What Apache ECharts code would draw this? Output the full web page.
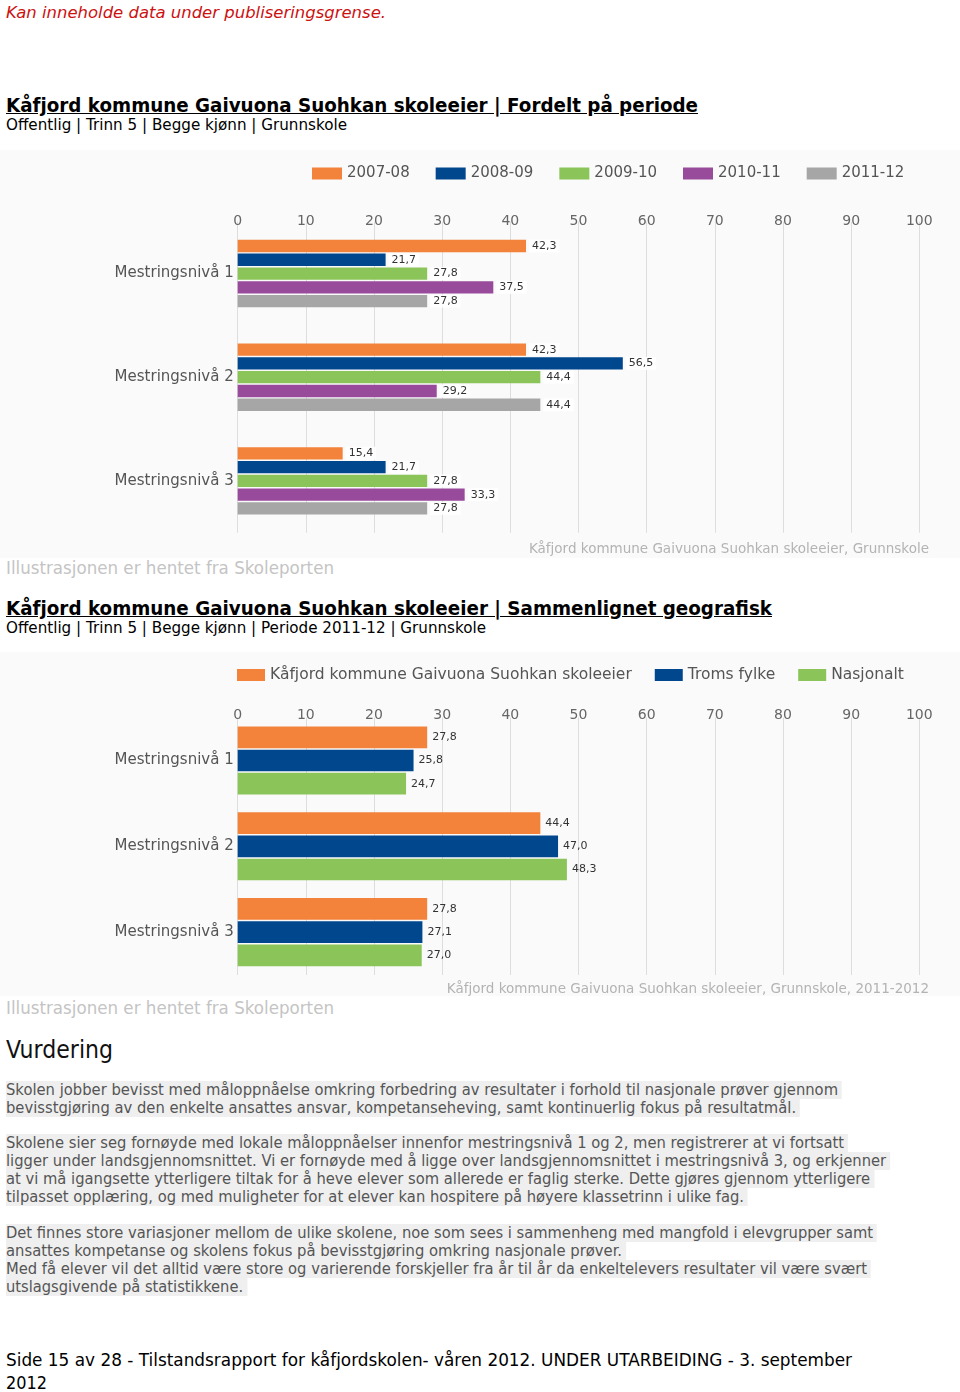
<!DOCTYPE html>
<html><head><meta charset="utf-8">
<script src="https://cdn.jsdelivr.net/npm/echarts@6/dist/echarts.min.js"></script>
<style>
html,body{margin:0;padding:0;background:#fff;}
body{width:960px;height:1392px;position:relative;overflow:hidden;font-family:"DejaVu Sans",Verdana,sans-serif;}
.t{position:absolute;left:6px;white-space:nowrap;transform-origin:0 50%;display:inline-block;}
.p{color:#555;font-size:15px;line-height:18px;height:18px;background:#efefef;padding-right:4px;}
.h{color:#000;font-weight:bold;font-size:19px;line-height:22px;text-decoration:underline;}
.s{color:#000;font-size:15px;line-height:18px;}
.i{color:#c4c4c4;font-size:17px;line-height:20px;}
.chart{position:absolute;left:0;width:960px;}
</style></head><body>
<div class="t" data-w="380" style="top:4px;color:#cc1111;font-style:italic;font-size:16px;line-height:18px">Kan inneholde data under publiseringsgrense.</div>
<div class="t h" data-w="692" style="top:94px">Kåfjord kommune Gaivuona Suohkan skoleeier | Fordelt på periode</div>
<div class="t s" data-w="341" style="top:116px">Offentlig | Trinn 5 | Begge kjønn | Grunnskole</div>
<div id="c1" class="chart" style="top:150px;height:408px"></div>
<div class="t i" data-w="328" style="top:558px">Illustrasjonen er hentet fra Skoleporten</div>
<div class="t h" data-w="766" style="top:597px">Kåfjord kommune Gaivuona Suohkan skoleeier | Sammenlignet geografisk</div>
<div class="t s" data-w="480" style="top:619px">Offentlig | Trinn 5 | Begge kjønn | Periode 2011-12 | Grunnskole</div>
<div id="c2" class="chart" style="top:652px;height:344px"></div>
<div class="t i" data-w="328" style="top:998px">Illustrasjonen er hentet fra Skoleporten</div>
<div class="t" data-w="107" style="top:1036px;font-size:24px;line-height:28px;color:#111">Vurdering</div>
<div class="t p" data-w="836" style="top:1081px">Skolen jobber bevisst med måloppnåelse omkring forbedring av resultater i forhold til nasjonale prøver gjennom</div>
<div class="t p" data-w="794" style="top:1099px">bevisstgjøring av den enkelte ansattes ansvar, kompetanseheving, samt kontinuerlig fokus på resultatmål.</div>
<div class="t p" data-w="842" style="top:1134px">Skolene sier seg fornøyde med lokale måloppnåelser innenfor mestringsnivå 1 og 2, men registrerer at vi fortsatt</div>
<div class="t p" data-w="884" style="top:1152px">ligger under landsgjennomsnittet. Vi er fornøyde med å ligge over landsgjennomsnittet i mestringsnivå 3, og erkjenner</div>
<div class="t p" data-w="868" style="top:1170px">at vi må igangsette ytterligere tiltak for å heve elever som allerede er faglig sterke. Dette gjøres gjennom ytterligere</div>
<div class="t p" data-w="742" style="top:1188px">tilpasset opplæring, og med muligheter for at elever kan hospitere på høyere klassetrinn i ulike fag.</div>
<div class="t p" data-w="871" style="top:1224px">Det finnes store variasjoner mellom de ulike skolene, noe som sees i sammenheng med mangfold i elevgrupper samt</div>
<div class="t p" data-w="620" style="top:1242px">ansattes kompetanse og skolens fokus på bevisstgjøring omkring nasjonale prøver.</div>
<div class="t p" data-w="865" style="top:1260px">Med få elever vil det alltid være store og varierende forskjeller fra år til år da enkeltelevers resultater vil være svært</div>
<div class="t p" data-w="241" style="top:1278px">utslagsgivende på statistikkene.</div>
<div class="t" data-w="846" style="top:1349px;font-size:17px;line-height:22px;color:#000">Side 15 av 28 - Tilstandsrapport for kåfjordskolen- våren 2012. UNDER UTARBEIDING - 3. september</div>
<div class="t" data-w="41" style="top:1372px;font-size:17px;line-height:22px;color:#000">2012</div>
<script>
// ---- data ----
const categories = ['Mestringsnivå 1', 'Mestringsnivå 2', 'Mestringsnivå 3'];
const periods = ['2007-08', '2008-09', '2009-10', '2010-11', '2011-12'];
const p2007_08 = [42.3, 42.3, 15.4];
const p2008_09 = [21.7, 56.5, 21.7];
const p2009_10 = [27.8, 44.4, 27.8];
const p2010_11 = [37.5, 29.2, 33.3];
const p2011_12 = [27.8, 44.4, 27.8];
const geoNames = ['Kåfjord kommune Gaivuona Suohkan skoleeier', 'Troms fylke', 'Nasjonalt'];
const geoKafjord = [27.8, 44.4, 27.8];
const geoTroms = [25.8, 47.0, 27.1];
const geoNasjonalt = [24.7, 48.3, 27.0];
const axisMin = 0, axisMax = 100, axisInterval = 10;
const caption1 = 'Kåfjord kommune Gaivuona Suohkan skoleeier, Grunnskole';
const caption2 = 'Kåfjord kommune Gaivuona Suohkan skoleeier, Grunnskole, 2011-2012';

const COLORS = ['#F3823B', '#00478D', '#8BC55A', '#994B9B', '#A6A6A6'];
const FONT = '"DejaVu Sans", Verdana, sans-serif';
const fmt = p => Number(p.value).toFixed(1).replace('.', ',');

function makeOption(names, seriesData, cfg) {
  return {
    backgroundColor: '#fafafa',
    animation: false,
    color: COLORS,
    textStyle: { fontFamily: FONT },
    legend: {
      data: names, left: cfg.legendLeft, top: cfg.legendTop,
      itemWidth: cfg.legendItemW, itemHeight: 12, itemGap: cfg.legendGap,
      icon: 'rect', textStyle: { color: '#555', fontSize: cfg.legendFont }, selectedMode: false
    },
    grid: { left: 237.7, right: 40.7, top: cfg.gridTop, height: cfg.gridH },
    xAxis: {
      type: 'value', position: 'top', min: axisMin, max: axisMax, interval: axisInterval,
      axisLine: { show: false }, axisTick: { show: false },
      axisLabel: { color: '#666', fontSize: 14, margin: cfg.xMargin },
      splitLine: { show: true, lineStyle: { color: '#dddddd', width: 1 } }
    },
    yAxis: {
      type: 'category', inverse: true, data: categories,
      axisLine: { show: false }, axisTick: { show: false },
      axisLabel: { color: '#555', fontSize: 15, margin: 4 }
    },
    graphic: [{
      type: 'text', right: 31, top: cfg.captionTop,
      style: { text: cfg.caption, fill: '#b3b3b3', fontSize: 13.5, fontFamily: FONT }
    }],
    series: seriesData.map((d, i) => ({
      name: names[i], type: 'bar', data: d,
      barWidth: cfg.barW, barGap: cfg.barGap,
      label: {
        show: true, position: 'right', distance: cfg.labelDist, formatter: fmt,
        color: '#333', fontSize: 11,
        backgroundColor: cfg.labelBg, padding: cfg.labelPad
      }
    }))
  };
}

const c1 = echarts.init(document.getElementById('c1'), null, { renderer: 'canvas' });
c1.setOption(makeOption(periods, [p2007_08, p2008_09, p2009_10, p2010_11, p2011_12], {
  legendLeft: 307, legendTop: 11, legendItemW: 30, legendGap: 26, legendFont: 15,
  gridTop: 71.7, gridH: 311, xMargin: -7,
  barW: 12.3, barGap: '12%', labelDist: 3, labelBg: 'rgba(255,255,255,0.9)', labelPad: [1, 3, 1, 3],
  caption: caption1, captionTop: 392
}));

const c2 = echarts.init(document.getElementById('c2'), null, { renderer: 'canvas' });
c2.setOption(makeOption(geoNames, [geoKafjord, geoTroms, geoNasjonalt], {
  legendLeft: 232, legendTop: 10, legendItemW: 28, legendGap: 23, legendFont: 15.5,
  gridTop: 65.6, gridH: 257.4, xMargin: -5,
  barW: 21.7, barGap: '7%', labelDist: 5, labelBg: 'transparent', labelPad: 0,
  caption: caption2, captionTop: 330
}));

// fit page text lines horizontally to the reference widths
document.querySelectorAll('[data-w]').forEach(el => {
  const w = el.getBoundingClientRect().width;
  const target = parseFloat(el.getAttribute('data-w'));
  if (w > 0) el.style.transform = 'scaleX(' + (target / w).toFixed(4) + ')';
});
</script>
</body></html>
